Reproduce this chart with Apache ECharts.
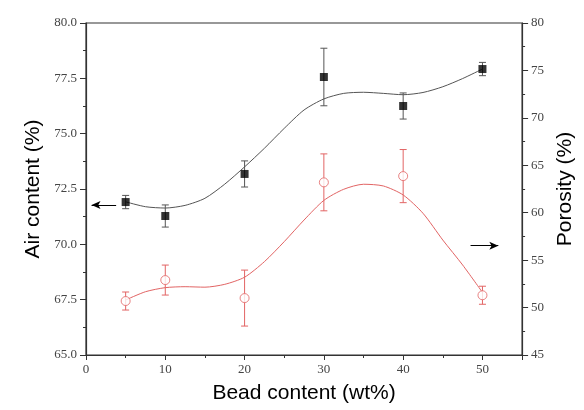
<!DOCTYPE html>
<html>
<head>
<meta charset="utf-8">
<script src="https://cdn.jsdelivr.net/npm/echarts@6/dist/echarts.min.js"></script>
<style>
  html, body { margin: 0; padding: 0; background: #fff; }
  #chart { width: 584px; height: 410px; }
</style>
</head>
<body>
<div id="chart"></div>
<script>
// measured points (bead content wt%)
var beadContent = [5, 10, 20, 30, 40, 50];
var airContent = [71.91, 71.28, 73.18, 77.56, 76.25, 77.92];
var airErr = [0.3, 0.5, 0.59, 1.3, 0.59, 0.3];
var porosity = [50.69, 52.9, 51.0, 63.2, 63.86, 51.3];
var porosityErr = [0.95, 1.58, 2.95, 3.0, 2.8, 0.95];

// fitted curves, every 2.5 wt%
var fitX = [5, 7.5, 10, 12.5, 15, 17.5, 20, 22.5, 25, 27.5, 30, 32.5, 35, 37.5, 40, 42.5, 45, 47.5, 50];
var airFit = [71.92, 71.70, 71.64, 71.76, 72.08, 72.72, 73.5, 74.34, 75.24, 76.07, 76.57, 76.82, 76.87, 76.82, 76.76, 76.86, 77.12, 77.49, 77.92];
var porosityFit = [50.8, 51.67, 52.1, 52.2, 52.15, 52.45, 53.2, 54.84, 56.95, 59.23, 61.3, 62.47, 63.0, 62.82, 61.87, 59.94, 57.12, 54.49, 51.6];

// arrows pointing to each axis [from, to]
var leftArrow = [[3.8, 71.78], [0.7, 71.78]];
var rightArrow = [[48.5, 56.52], [52.0, 56.52]];

var xTicks = { min: 0, max: 55, interval: 10 };
var leftTicks = { min: 65, max: 80, interval: 2.5 };
var rightTicks = { min: 45, max: 80, interval: 5 };

var black = '#000';
var lineGray = '#555';
var red = '#e26464';
var axisColor = '#333';
var labelFont = { fontFamily: 'Liberation Serif', fontSize: 13, color: '#444' };
var nameFont = { fontFamily: 'Liberation Sans', fontSize: 21, color: '#000' };

function pairs(xs, ys) {
    return xs.map(function (x, i) { return [x, ys[i]]; });
}

function errRows(xs, ys, errs) {
    return xs.map(function (x, i) { return [x, ys[i] - errs[i], ys[i] + errs[i]]; });
}

function errorBar(color) {
    return function (params, api) {
        var x = api.value(0);
        var lo = api.coord([x, api.value(1)]);
        var hi = api.coord([x, api.value(2)]);
        var w = 3.5;
        var style = { stroke: color, lineWidth: 1 };
        return {
            type: 'group',
            children: [
                { type: 'line', shape: { x1: lo[0], y1: lo[1], x2: hi[0], y2: hi[1] }, style: style },
                { type: 'line', shape: { x1: hi[0] - w, y1: hi[1], x2: hi[0] + w, y2: hi[1] }, style: style },
                { type: 'line', shape: { x1: lo[0] - w, y1: lo[1], x2: lo[0] + w, y2: lo[1] }, style: style }
            ]
        };
    };
}

function arrowMark(pts) {
    return {
        silent: true,
        symbol: ['none', 'arrow'],
        symbolSize: [6, 9],
        lineStyle: { color: black, width: 1, type: 'solid' },
        label: { show: false },
        emphasis: { disabled: true },
        data: [[{ coord: pts[0] }, { coord: pts[1] }]]
    };
}

function yAxisCfg(ticks, pos, name, gap, digits) {
    return {
        type: 'value',
        position: pos,
        min: ticks.min,
        max: ticks.max,
        interval: ticks.interval,
        name: name,
        nameLocation: 'middle',
        nameGap: gap,
        nameTextStyle: nameFont,
        axisLine: { show: true, lineStyle: { color: axisColor, width: 1.2 } },
        axisTick: { show: true, length: 6, lineStyle: { color: axisColor } },
        minorTick: { show: true, splitNumber: 2, length: 3, lineStyle: { color: axisColor } },
        splitLine: { show: false },
        axisLabel: Object.assign({ margin: 9, formatter: function (v) { return v.toFixed(digits); } }, labelFont)
    };
}

var chart = echarts.init(document.getElementById('chart'));
chart.setOption({
    animation: false,
    backgroundColor: '#fff',
    grid: { left: 86, right: 51, top: 23, bottom: 55, show: true, borderColor: axisColor, borderWidth: 1.2 },
    xAxis: {
        type: 'value',
        min: xTicks.min,
        max: xTicks.max,
        interval: xTicks.interval,
        name: 'Bead content (wt%)',
        nameLocation: 'middle',
        nameGap: 28,
        nameTextStyle: nameFont,
        axisLine: { show: true, onZero: false, lineStyle: { color: axisColor, width: 1.2 } },
        axisTick: { show: true, length: 5, lineStyle: { color: axisColor } },
        minorTick: { show: true, splitNumber: 2, length: 3, lineStyle: { color: axisColor } },
        splitLine: { show: false },
        axisLabel: Object.assign({ margin: 8, showMaxLabel: false }, labelFont)
    },
    yAxis: [
        yAxisCfg(leftTicks, 'left', 'Air content (%)', 42, 1),
        yAxisCfg(rightTicks, 'right', 'Porosity (%)', 31, 0)
    ],
    series: [
        {
            name: 'air fit',
            type: 'line',
            yAxisIndex: 0,
            smooth: 0.25,
            showSymbol: false,
            silent: true,
            lineStyle: { color: lineGray, width: 1 },
            data: pairs(fitX, airFit),
            markLine: arrowMark(leftArrow),
            z: 2
        },
        {
            name: 'porosity fit',
            type: 'line',
            yAxisIndex: 1,
            smooth: 0.25,
            showSymbol: false,
            silent: true,
            lineStyle: { color: red, width: 1 },
            data: pairs(fitX, porosityFit),
            markLine: arrowMark(rightArrow),
            z: 2
        },
        {
            name: 'air err',
            type: 'custom',
            yAxisIndex: 0,
            renderItem: errorBar(lineGray),
            encode: { x: 0, y: [1, 2] },
            data: errRows(beadContent, airContent, airErr),
            z: 3
        },
        {
            name: 'porosity err',
            type: 'custom',
            yAxisIndex: 1,
            renderItem: errorBar(red),
            encode: { x: 0, y: [1, 2] },
            data: errRows(beadContent, porosity, porosityErr),
            z: 3
        },
        {
            name: 'Air content',
            type: 'scatter',
            yAxisIndex: 0,
            symbol: 'rect',
            symbolSize: 8,
            itemStyle: { color: black },
            data: pairs(beadContent, airContent),
            z: 4
        },
        {
            name: 'Porosity',
            type: 'scatter',
            yAxisIndex: 1,
            symbol: 'circle',
            symbolSize: 9,
            itemStyle: { color: '#fff', borderColor: red, borderWidth: 1 },
            data: pairs(beadContent, porosity),
            z: 4
        }
    ]
});
</script>
</body>
</html>
